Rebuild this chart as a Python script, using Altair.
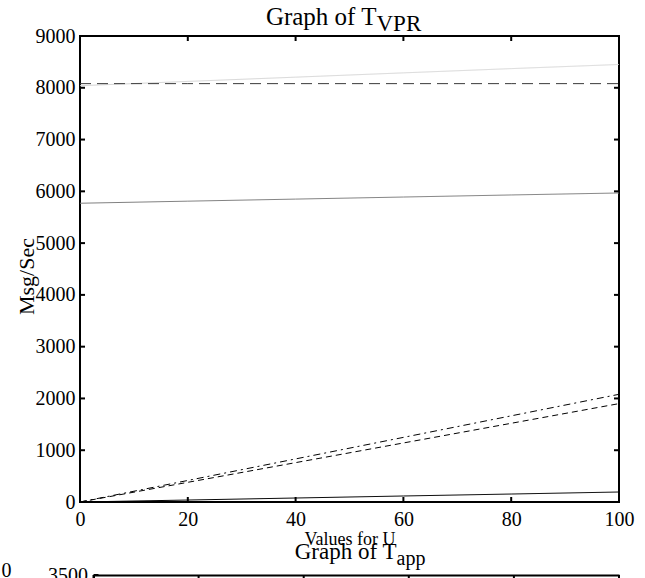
import altair as alt
import pandas as pd

# ---- data ----
U = [0, 20, 40, 60, 80, 100]
light_gray = [8040, 8123, 8205, 8288, 8370, 8450]
dark_dashed = [8080, 8080, 8080, 8080, 8080, 8080]
mid_gray = [5770, 5810, 5850, 5890, 5930, 5968]
dash_dot = [0, 416, 832, 1248, 1664, 2080]
black_dashed = [0, 380, 760, 1140, 1520, 1900]
black_solid = [0, 38, 77, 116, 154, 193]

SERIES = ["light", "darkdash", "gray", "dashdot", "dash", "solid"]
COLORS = ["#d6d6d6", "#3a3a3a", "#808080", "#000000", "#000000", "#000000"]
DASHES = [[1, 0], [11, 6], [1, 0], [7, 4, 2, 4], [6, 4], [1, 0]]

X_TICKS = [0, 20, 40, 60, 80, 100]
Y_TICKS = [0, 1000, 2000, 3000, 4000, 5000, 6000, 7000, 8000, 9000]
Y2_TICKS = [0, 500, 1000, 1500, 2000, 2500, 3000, 3500]

TITLE1 = ["Graph of T", "VPR"]
TITLE2 = ["Graph of T", "app"]
X_TITLE = "Values for U"
Y_TITLE = "Msg/Sec"
STRAY_LABEL = "0"

FONT = "Liberation Serif"
W, H = 539, 466

rows = []
for name, vals in zip(SERIES, [light_gray, dark_dashed, mid_gray, dash_dot, black_dashed, black_solid]):
    for u, v in zip(U, vals):
        rows.append({"series": name, "U": u, "value": v})
df = pd.DataFrame(rows)
xt = pd.DataFrame({"U": X_TICKS})
yt = pd.DataFrame({"value": Y_TICKS})
yt2 = pd.DataFrame({"v": Y2_TICKS})

xscale = alt.Scale(domain=[0, 100], nice=False, zero=False)
yscale = alt.Scale(domain=[0, 9000], nice=False)

xaxis = alt.Axis(values=X_TICKS, format="d", title=X_TITLE, grid=False, domain=False, ticks=False,
                 tickSize=0, labelFont=FONT, labelFontSize=20, labelColor="black",
                 labelBaseline="alphabetic", labelPadding=23, labelFlush=False,
                 titleFont=FONT, titleFontSize=18, titleFontWeight="normal", titleColor="black",
                 titleY=42, titleBaseline="alphabetic")
yaxis = alt.Axis(values=Y_TICKS, format="d", title=Y_TITLE, grid=False, domain=False, ticks=False,
                 tickSize=0, labelFont=FONT, labelFontSize=20, labelColor="black", labelPadding=5,
                 labelBaseline="middle", labelFlush=False, titleFont=FONT, titleFontSize=22,
                 titleFontWeight="normal", titleColor="black", titleX=-47, titleY=240,
                 titleAngle=270, titleBaseline="alphabetic", titleAlign="center")

lines = alt.Chart(df).mark_line(strokeWidth=1).encode(
    x=alt.X("U:Q", scale=xscale, axis=xaxis),
    y=alt.Y("value:Q", scale=yscale, axis=yaxis),
    color=alt.Color("series:N", scale=alt.Scale(domain=SERIES, range=COLORS), legend=None),
    strokeDash=alt.StrokeDash("series:N", scale=alt.Scale(domain=SERIES, range=DASHES), legend=None),
    detail="series:N",
)

tick_style = dict(color="black", strokeWidth=2)
bt = alt.Chart(xt).mark_rule(**tick_style).encode(x="U:Q", y=alt.value(H), y2=alt.value(H - 5))
tt = alt.Chart(xt).mark_rule(**tick_style).encode(x="U:Q", y=alt.value(0), y2=alt.value(5))
lt = alt.Chart(yt).mark_rule(**tick_style).encode(y="value:Q", x=alt.value(0), x2=alt.value(5))
rt = alt.Chart(yt).mark_rule(**tick_style).encode(y="value:Q", x=alt.value(W), x2=alt.value(W - 5))

t1 = pd.DataFrame({"t": [TITLE1[0]]})
t1s = pd.DataFrame({"t": [TITLE1[1]]})
title1 = alt.Chart(t1).mark_text(font=FONT, fontSize=25, align="right", baseline="alphabetic",
                                 color="black").encode(text="t:N", x=alt.value(296.5), y=alt.value(-11))
title1s = alt.Chart(t1s).mark_text(font=FONT, fontSize=23, align="left", baseline="alphabetic",
                                   color="black").encode(text="t:N", x=alt.value(296.5), y=alt.value(-5))

chart1 = alt.layer(lines, bt, tt, lt, rt, title1, title1s).properties(
    width=W, height=H, view=alt.ViewBackground(stroke="black", strokeWidth=2))

# ---- second (cut-off) panel ----
x2scale = alt.Scale(domain=[0, 100], nice=False, zero=False, range=[13.5, W])
x2axis = alt.Axis(orient="top", values=X_TICKS, labels=False, ticks=False, tickSize=0, grid=False,
                  domain=True, domainColor="black", domainWidth=2, title=None)
y2axis = alt.Axis(values=Y2_TICKS, format="d", grid=False, domain=True, domainColor="black",
                  domainWidth=2, ticks=False, tickSize=0, offset=-13.5, labelFont=FONT,
                  labelFontSize=20, labelColor="black", labelPadding=6, labelBaseline="middle",
                  labelFlush=False, title=None)

tt2 = alt.Chart(xt).mark_rule(**tick_style).encode(
    x=alt.X("U:Q", scale=x2scale, axis=x2axis), y=alt.value(0), y2=alt.value(5))
lt2 = alt.Chart(yt2).mark_rule(**tick_style).encode(
    y=alt.Y("v:Q", scale=alt.Scale(domain=[0, 3500], nice=False), axis=y2axis),
    x=alt.value(13.5), x2=alt.value(18.5))
t2 = pd.DataFrame({"t": [TITLE2[0]]})
t2s = pd.DataFrame({"t": [TITLE2[1]]})
title2 = alt.Chart(t2).mark_text(font=FONT, fontSize=23, align="right", baseline="alphabetic",
                                 color="black").encode(text="t:N", x=alt.value(316.5), y=alt.value(-16))
title2s = alt.Chart(t2s).mark_text(font=FONT, fontSize=20, align="left", baseline="alphabetic",
                                   color="black").encode(text="t:N", x=alt.value(316.5), y=alt.value(-10))
stray = alt.Chart(pd.DataFrame({"t": [STRAY_LABEL]})).mark_text(
    font=FONT, fontSize=20, align="right", baseline="middle", color="black").encode(
    text="t:N", x=alt.value(-68.5), y=alt.value(-4))

chart2 = alt.layer(tt2, lt2, title2, title2s, stray).properties(
    width=W, height=300, view=alt.ViewBackground(stroke="transparent"))

chart = alt.vconcat(chart1, chart2, spacing=73, bounds="flush").properties(
    padding={"left": 1, "top": 4, "right": 0, "bottom": 0})

chart.save("out.html", embed_options={"renderer": "svg", "actions": False})
